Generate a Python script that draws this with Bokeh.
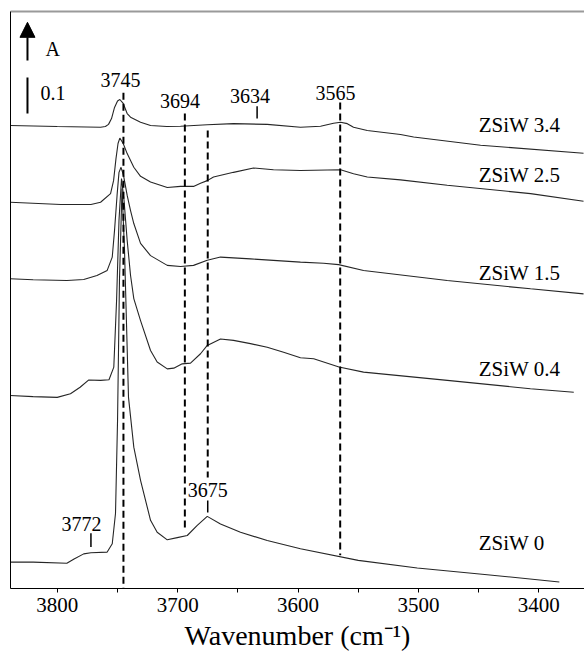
from bokeh.plotting import figure
from bokeh.models import Range1d, FixedTicker, LinearAxis, Arrow, NormalHead
from bokeh.core.properties import value
from bokeh.embed import file_html
from bokeh.resources import INLINE

# ---- IR spectra (wavenumber in cm-1, absorbance incl. vertical offset) ----
wn_34 = [3839, 3800, 3764, 3760, 3757.4, 3754.9, 3752.4, 3749.9, 3748, 3745.2, 3741.9, 3739.1,
         3730.8, 3722.5, 3709, 3697.6, 3675.4, 3653.6, 3625.6, 3598, 3581.3, 3570.5, 3564.7,
         3559.1, 3553.9, 3542.5, 3514.9, 3504, 3448.4, 3362.9]
a_34 = [1.284, 1.281, 1.279, 1.281, 1.287, 1.303, 1.334, 1.352, 1.356, 1.345, 1.317, 1.307,
        1.293, 1.284, 1.281, 1.282, 1.286, 1.289, 1.287, 1.279, 1.282, 1.290, 1.293,
        1.289, 1.279, 1.270, 1.259, 1.252, 1.229, 1.207]

wn_25 = [3839, 3797, 3772, 3764, 3755.7, 3753.2, 3751.2, 3749.5, 3748, 3745.2, 3741.9, 3736.4,
         3730.8, 3722.5, 3708.6, 3697.6, 3686.8, 3681, 3675.4, 3670.2, 3653.6, 3637, 3620.4,
         3598, 3564.7, 3553.9, 3542.5, 3514.9, 3476.1, 3406.9, 3362.9]
a_25 = [1.071, 1.065, 1.065, 1.071, 1.095, 1.131, 1.192, 1.234, 1.249, 1.234, 1.206, 1.168,
        1.143, 1.127, 1.112, 1.115, 1.115, 1.124, 1.131, 1.141, 1.154, 1.166, 1.161,
        1.159, 1.161, 1.150, 1.141, 1.133, 1.118, 1.095, 1.074]

wn_15 = [3839, 3820, 3792, 3778, 3767, 3758.5, 3754.3, 3752.4, 3750.3, 3748.7, 3747, 3744.9,
         3741.9, 3739.1, 3736.4, 3730.8, 3722.5, 3708.6, 3697.6, 3686.8, 3675.4, 3664.4,
         3639.5, 3598, 3578.8, 3566.3, 3545.6, 3476.1, 3406.9, 3362.9]
a_15 = [0.859, 0.856, 0.854, 0.857, 0.868, 0.882, 0.919, 0.993, 1.090, 1.154, 1.168, 1.145,
        1.090, 1.048, 1.012, 0.957, 0.923, 0.896, 0.893, 0.896, 0.910, 0.919,
        0.914, 0.905, 0.902, 0.898, 0.882, 0.854, 0.831, 0.817]

wn_04 = [3839, 3820, 3800, 3789, 3781, 3774, 3764, 3757, 3753, 3750.7, 3748.7, 3746.6, 3744.5,
         3741.9, 3739.1, 3736.4, 3730.8, 3722.5, 3717, 3708.6, 3703.2, 3696.2, 3689.3, 3681,
         3675.4, 3664.4, 3653.6, 3639.5, 3625.6, 3612, 3598, 3587, 3566, 3545.6, 3476, 3407, 3371]
a_04 = [0.535, 0.532, 0.530, 0.540, 0.558, 0.578, 0.577, 0.579, 0.614, 0.799, 1.021, 1.137, 1.076,
        0.965, 0.868, 0.804, 0.743, 0.660, 0.628, 0.609, 0.611, 0.623, 0.625, 0.651,
        0.674, 0.692, 0.688, 0.679, 0.669, 0.655, 0.640, 0.637, 0.614, 0.600, 0.577, 0.554, 0.544]

wn_0 = [3839, 3820, 3792, 3786, 3778, 3772, 3758.5, 3754.3, 3751.6, 3749.9, 3748.3, 3746.2,
        3744.1, 3740.8, 3736.4, 3730.8, 3722.5, 3717, 3708.6, 3700.3, 3692, 3683.7, 3675.4,
        3664.4, 3647.8, 3625.6, 3598, 3550, 3501, 3445, 3383]
a_0 = [0.073, 0.073, 0.070, 0.082, 0.096, 0.099, 0.101, 0.124, 0.208, 0.466, 0.854, 1.109,
       0.937, 0.530, 0.392, 0.300, 0.189, 0.156, 0.135, 0.141, 0.147, 0.175, 0.200,
       0.179, 0.156, 0.133, 0.110, 0.078, 0.057, 0.039, 0.018]

series_names = ["ZSiW 3.4", "ZSiW 2.5", "ZSiW 1.5", "ZSiW 0.4", "ZSiW 0"]
series_label_y = [1.284, 1.148, 0.874, 0.610, 0.127]

# band markers: dashed guide lines (position, top, bottom)
dash_pos = [3745, 3694, 3675, 3565]
dash_top = [1.375, 1.317, 1.270, 1.348]
dash_bot = [0.0, 0.166, 0.308, 0.092]

# short solid marker ticks (position, top, bottom)
tick_pos = [3634, 3772, 3675]
tick_top = [1.337, 0.153, 0.244]
tick_bot = [1.303, 0.115, 0.211]

# band labels
band_text = ["3745", "3694", "3634", "3565", "3675", "3772"]
band_x = [3747.4, 3698, 3640, 3568.8, 3675, 3779.8]
band_y = [1.409, 1.353, 1.367, 1.375, 0.272, 0.180]

x_ticks = [3800, 3700, 3600, 3500, 3400]
x_minor = [3750, 3650, 3550, 3450]

SERIF = "Liberation Serif"

p = figure(width=584, height=653, output_backend="svg", toolbar_location=None,
           x_range=Range1d(3838.8, 3362.1), y_range=Range1d(0, 1.6),
           min_border_left=10, min_border_right=0, min_border_top=11, min_border_bottom=65)
p.outline_line_color = None
p.grid.visible = False
p.background_fill_color = "white"
p.border_fill_color = "white"

# bottom axis
xa = p.xaxis[0]
xa.ticker = FixedTicker(ticks=x_ticks, minor_ticks=x_minor)
xa.major_tick_in = 0
xa.major_tick_out = 4
xa.minor_tick_in = 0
xa.minor_tick_out = 4
xa.axis_line_color = "black"
xa.major_tick_line_color = "black"
xa.minor_tick_line_color = "black"
xa.major_label_text_font = SERIF
xa.major_label_text_font_size = "21px"
xa.major_label_text_color = "black"
xa.major_label_standoff = 5
xa.axis_label = "Wavenumber (cm\u207b\u00b9)"
xa.axis_label_text_font = SERIF
xa.axis_label_text_font_size = "28px"
xa.axis_label_text_font_style = "normal"
xa.axis_label_text_color = "black"
xa.axis_label_standoff = 5

# left axis: bare line
ya = p.yaxis[0]
ya.ticker = FixedTicker(ticks=[])
ya.major_tick_line_color = None
ya.minor_tick_line_color = None
ya.major_label_text_font_size = "0px"
ya.axis_line_color = "black"

# top border line
top = LinearAxis(ticker=FixedTicker(ticks=[]), axis_line_color="#9a9a9a", axis_line_width=2,
                 major_tick_line_color=None, minor_tick_line_color=None,
                 major_label_text_font_size="0px")
p.add_layout(top, "above")

# spectra
for wn, a in [(wn_34, a_34), (wn_25, a_25), (wn_15, a_15), (wn_04, a_04), (wn_0, a_0)]:
    p.line(wn, a, line_color="#262626", line_width=1.1)

# dashed guides
p.segment(x0=dash_pos, y0=dash_top, x1=dash_pos, y1=dash_bot,
          line_color="black", line_width=2, line_dash="7 4")
# solid marker ticks
p.segment(x0=tick_pos, y0=tick_top, x1=tick_pos, y1=tick_bot,
          line_color="black", line_width=1.5)

# band labels
p.text(x=band_x, y=band_y, text=band_text, text_font=value(SERIF), text_font_size="20px",
       text_align="center", text_baseline="middle", text_color="black")

# sample labels
p.text(x=[3450] * len(series_names), y=series_label_y, text=series_names,
       text_font=value(SERIF), text_font_size="21px", text_align="left",
       text_baseline="middle", text_color="black")

# absorbance arrow and 0.1 scale bar
p.add_layout(Arrow(end=NormalHead(size=15, fill_color="black", line_color="black"),
                   x_start=3824.7, y_start=1.464, x_end=3824.7, y_end=1.570,
                   line_color="black", line_width=2))
p.segment(x0=[3824.7], y0=[1.317], x1=[3824.7], y1=[1.417], line_color="black", line_width=2)
p.text(x=[3809.7, 3813.9], y=[1.497, 1.375], text=["A", "0.1"], text_font=value(SERIF),
       text_font_size="20px", text_align="left", text_baseline="middle", text_color="black")

open("out.html", "w").write(file_html(p, INLINE))
